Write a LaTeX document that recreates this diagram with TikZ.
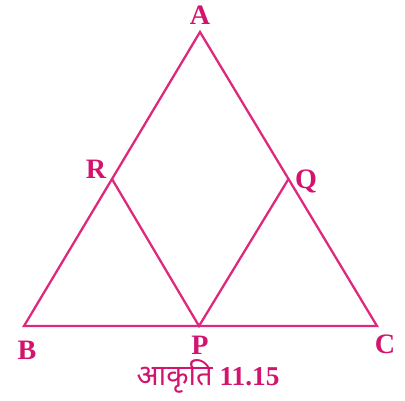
\documentclass[tikz,border=0pt]{standalone}
\usepackage{fontspec}
\setmainfont{Liberation Serif}
\newfontfamily\devfont[Script=Devanagari]{Noto Sans}
\usepackage{tikz}
\usetikzlibrary{positioning,calc}
\definecolor{pinkline}{RGB}{222,40,125}
\definecolor{pinktext}{RGB}{210,20,110}

\begin{document}
\begin{tikzpicture}[x=0.02cm, y=-0.02cm, line width=1.3pt,
  every node/.style={text=pinktext, font=\fontsize{16}{18}\selectfont\bfseries}]
\useasboundingbox (0,0) rectangle (405,400);
\coordinate (a) at (200,32);
\coordinate (b) at (24,326);
\coordinate (c) at (377,326);
\coordinate (p) at (199,326);
\coordinate (r) at ($(a)!0.5!(b)$);
\coordinate (q) at ($(a)!0.5!(c)$);

\node (la) at (200,15) {A};
\node (lb) at (27,350) {B};
\node (lc) at (385,344) {C};
\node (lp) at (200,345) {P};
\node (lr) at (96,169) {R};
\node (lq) at (306,181) {Q};
\node (cap) at (208,376) {{\devfont\mdseries\fontsize{16.5}{18}\selectfont आकृति} \fontsize{15.5}{17}\selectfont 11.15};

\draw[pinkline, line join=miter] (a) -- (b) -- (c) -- cycle;
\draw[pinkline] (r) -- (p) -- (q);
\end{tikzpicture}
\end{document}
